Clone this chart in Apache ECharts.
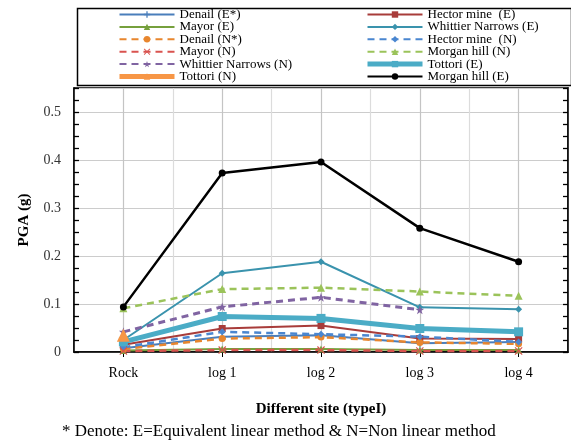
<!DOCTYPE html>
<html>
<head>
<meta charset="utf-8">
<script src="https://cdn.jsdelivr.net/npm/echarts@6/dist/echarts.min.js"></script>
<style>html,body{margin:0;padding:0;background:#fff;}#c{width:571px;height:446px;}</style>
</head>
<body>
<div id="c"></div>
<script>
var categories = ['Rock', 'log 1', 'log 2', 'log 3', 'log 4'];
var denaliE    = [0.008, 0.032, 0.035, 0.018, 0.021];
var hectorE    = [0.015, 0.049, 0.055, 0.028, 0.027];
var mayorE     = [0.003, 0.006, 0.006, 0.004, 0.004];
var whittierE  = [0.025, 0.164, 0.188, 0.093, 0.089];
var denaliN    = [0.006, 0.028, 0.031, 0.020, 0.017];
var hectorN    = [0.010, 0.042, 0.037, 0.032, 0.021];
var mayorN     = [0.002, 0.004, 0.004, 0.002, 0.002];
var morganN    = [0.091, 0.131, 0.134, 0.126, 0.117];
var whittierN  = [0.042, 0.094, 0.114, 0.088, null];
var tottoriE   = [0.021, 0.074, 0.070, 0.049, 0.042];
var tottoriN   = [0.035, null, null, null, null];
var morganE    = [0.094, 0.373, 0.396, 0.258, 0.188];
var yTicks = [0, 0.1, 0.2, 0.3, 0.4, 0.5];

var FONT = 'Liberation Serif';
var plusPath = 'path://M4,0h2v4h4v2h-4v4h-2v-4h-4v-2h4z';
var xPath = 'path://M1,0L5,4L9,0L10,1L6,5L10,9L9,10L5,6L1,10L0,9L4,5L0,1Z';
var starPath = 'path://M5,0L6.2,3.6L10,3.6L6.9,5.9L8.1,9.5L5,7.3L1.9,9.5L3.1,5.9L0,3.6L3.8,3.6Z';

function mk(name, data, color, width, dashed, symbol, size) {
  return {
    name: name, type: 'line', data: data, xAxisIndex: 0, yAxisIndex: 0,
    symbol: symbol, symbolSize: size, showSymbol: true, connectNulls: false,
    lineStyle: { color: color, width: width, type: dashed ? [7, 5] : 'solid' },
    itemStyle: { color: color },
    animation: false
  };
}

var series = [
  mk('Denail (E*)', denaliE, '#4a7ebb', 2, false, plusPath, 7),
  mk('Hector mine  (E)', hectorE, '#a83c3a', 2, false, 'rect', 7),
  mk('Mayor (E)', mayorE, '#76a03c', 2, false, 'triangle', 7),
  mk('Whittier Narrows (E)', whittierE, '#3a93ad', 2, false, 'diamond', 7),
  mk('Denail (N*)', denaliN, '#e8862e', 2.5, true, 'circle', 7),
  mk('Hector mine  (N)', hectorN, '#4a86d0', 2.5, true, 'diamond', 7),
  mk('Mayor (N)', mayorN, '#d9534f', 2.5, true, xPath, 8),
  mk('Morgan hill (N)', morganN, '#9bc35a', 2.5, true, 'triangle', 8),
  mk('Whittier Narrows (N)', whittierN, '#8064a2', 3, true, starPath, 9),
  mk('Tottori (E)', tottoriE, '#4bacc6', 5, false, 'rect', 9),
  mk('Tottori (N)', tottoriN, '#f79646', 5, false, 'triangle', 13),
  mk('Morgan hill (E)', morganE, '#000000', 2.5, false, 'circle', 7)
];

function legItem(name) {
  if (name === 'Tottori (E)' || name === 'Tottori (N)') return { name: name, lineStyle: { width: 5 } };
  return { name: name };
}

var legendText = { fontFamily: FONT, fontSize: 13, color: '#000', lineHeight: 12 };
var chart = echarts.init(document.getElementById('c'));
chart.setOption({
  animation: false,
  backgroundColor: '#fff',
  textStyle: { fontFamily: FONT },
  grid: { left: 74, right: 3, top: 88, bottom: 94, show: true, borderColor: '#000', borderWidth: 1.5, outerBoundsMode: 'none' },
  legend: [
    { orient: 'vertical', left: 117, top: 8, padding: 0, itemWidth: 55, itemHeight: 8, itemGap: -0.6, textStyle: legendText,
      data: ['Denail (E*)', 'Mayor (E)', 'Denail (N*)', 'Mayor (N)', 'Whittier Narrows (N)', 'Tottori (N)'].map(legItem) },
    { orient: 'vertical', left: 365, top: 8, padding: 0, itemWidth: 55, itemHeight: 8, itemGap: -0.6, textStyle: legendText,
      data: ['Hector mine  (E)', 'Whittier Narrows (E)', 'Hector mine  (N)', 'Morgan hill (N)', 'Tottori (E)', 'Morgan hill (E)'].map(legItem) }
  ],
  graphic: [
    { type: 'rect', left: 75, top: 6, shape: { width: 494, height: 77 }, style: { fill: 'none', stroke: '#000', lineWidth: 1.5 }, z: -1 },
    { type: 'text', left: 62, top: 423, style: { text: '* Denote: E=Equivalent linear method & N=Non linear method', font: '17px "Liberation Serif"', fill: '#000' } }
  ],
  xAxis: [
    { type: 'category', data: categories, boundaryGap: true, position: 'bottom',
      axisLine: { lineStyle: { color: '#000', width: 1.5 } },
      axisTick: { show: true, alignWithLabel: true, length: 5, lineStyle: { color: '#000' } },
      axisLabel: { fontFamily: FONT, fontSize: 14, color: '#000', margin: 14 },
      splitLine: { show: false },
      name: 'Different site (typeI)', nameLocation: 'middle', nameGap: 50,
      nameTextStyle: { fontFamily: FONT, fontSize: 15, fontWeight: 'bold', color: '#000' } },
    { type: 'value', min: 0, max: 10, interval: 1, position: 'bottom', show: true,
      axisLine: { show: false }, axisTick: { show: false }, axisLabel: { show: false },
      splitLine: { show: true, lineStyle: { color: ['#dcdcdc', '#c4c4c4'], width: 1.2 } } }
  ],
  yAxis: [
    { type: 'value', min: 0, max: 0.55, interval: 0.1, position: 'left',
      axisLine: { show: true, lineStyle: { color: '#000', width: 1.5 } },
      axisTick: { show: false },
      axisLabel: { fontFamily: FONT, fontSize: 14, color: '#333', margin: 13, showMaxLabel: false,
        formatter: function (v) { return yTicks.indexOf(Math.round(v * 10) / 10) >= 0 && Math.abs(v * 10 - Math.round(v * 10)) < 1e-6 ? String(Math.round(v * 10) / 10) : ''; } },
      splitLine: { show: true, lineStyle: { color: '#cccccc', width: 1.2 } },
      name: 'PGA (g)', nameLocation: 'middle', nameGap: 42, nameRotate: 90,
      nameTextStyle: { fontFamily: FONT, fontSize: 15, fontWeight: 'bold', color: '#000' } },
    { type: 'value', min: 0, max: 0.55, interval: 0.025, position: 'left',
      axisLine: { show: false },
      axisTick: { show: true, inside: true, length: 5, lineStyle: { color: '#000', width: 1.3 } },
      axisLabel: { show: false }, splitLine: { show: false } },
    { type: 'value', min: 0, max: 0.55, interval: 0.025, position: 'right',
      axisLine: { show: true, lineStyle: { color: '#000', width: 1.5 } },
      axisTick: { show: true, inside: true, length: 5, lineStyle: { color: '#000', width: 1.3 } },
      axisLabel: { show: false }, splitLine: { show: false } }
  ],
  series: series
});
</script>
</body>
</html>
